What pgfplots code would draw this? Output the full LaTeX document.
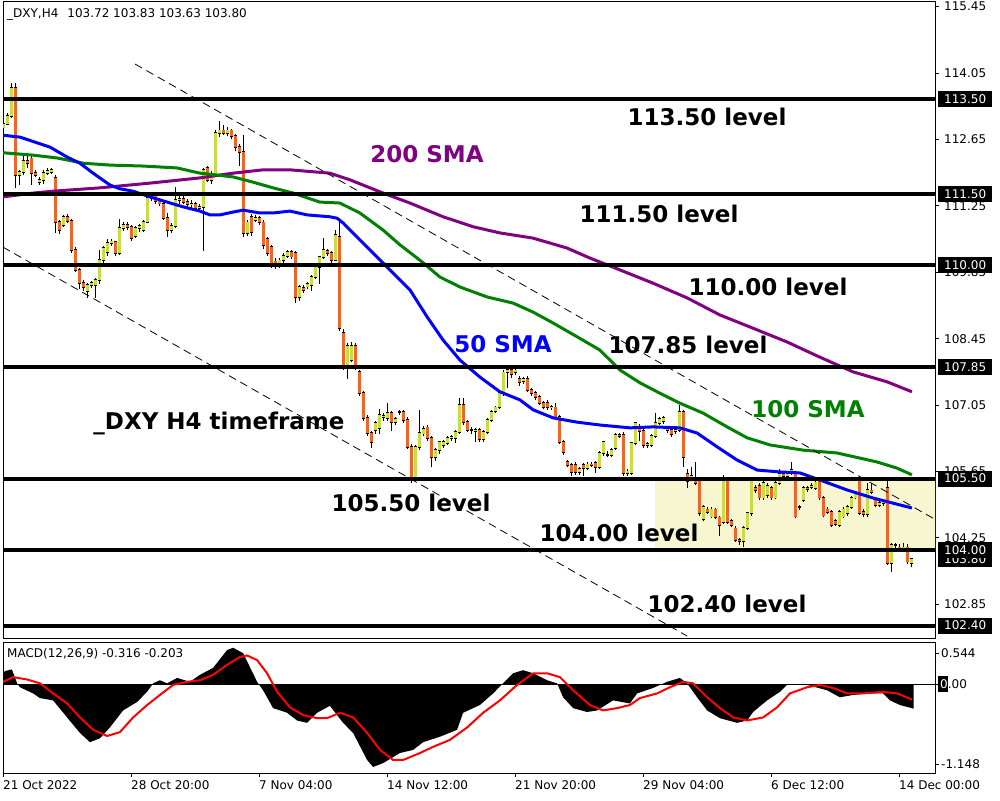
\documentclass[border=0pt]{standalone}
\usepackage{fontspec}
\setmainfont{DejaVu Sans}
\usepackage{pgfplots}
\usepackage{pgfplotstable}
\pgfplotsset{compat=1.18}
\definecolor{upc}{HTML}{C8DC46}
\definecolor{dnc}{HTML}{F06428}
\definecolor{hl}{HTML}{F7F6D0}
\definecolor{smap}{HTML}{800080}
\definecolor{smag}{HTML}{008000}
\definecolor{smab}{HTML}{0000FF}
\newcommand{\tf}{\fontsize{12}{14}\selectfont}
\newcommand{\lv}{\fontsize{23}{27}\selectfont\bfseries}

\pgfplotstableread{
i o h l c
0 112.90 113.05 112.85 112.98
1 112.98 113.20 112.95 113.15
2 113.15 113.85 113.10 113.73
3 113.73 113.85 111.62 111.90
4 111.90 112.00 111.70 111.97
5 111.97 112.30 111.90 112.20
6 112.20 112.35 112.05 112.15
7 112.25 112.30 111.70 111.95
8 111.95 112.00 111.85 111.90
9 111.75 111.85 111.70 111.80
10 111.80 112.00 111.72 111.95
11 111.95 112.05 111.90 111.98
12 111.97 112.05 111.92 112.00
13 111.84 111.90 110.68 110.91
14 110.91 110.95 110.65 110.74
15 110.85 111.05 110.80 111.02
16 111.02 111.08 110.88 110.93
17 110.93 110.98 110.25 110.32
18 110.32 110.38 109.85 109.90
19 109.90 109.95 109.50 109.62
20 109.62 109.68 109.45 109.53
21 109.45 109.62 109.30 109.58
22 109.58 109.66 109.52 109.62
23 109.58 109.72 109.30 109.69
24 109.69 110.32 109.60 110.11
25 110.11 110.40 110.05 110.36
26 110.28 110.55 110.20 110.47
27 110.47 110.55 110.40 110.50
28 110.49 110.52 110.20 110.26
29 110.26 110.97 110.22 110.78
30 110.78 110.90 110.72 110.85
31 110.85 110.92 110.75 110.80
32 110.80 110.85 110.50 110.57
33 110.62 110.82 110.58 110.78
34 110.78 110.86 110.70 110.82
35 110.74 110.95 110.70 110.91
36 110.91 111.50 110.88 111.42
37 111.42 111.52 111.36 111.45
38 111.45 111.50 111.30 111.35
39 111.35 111.42 111.25 111.30
40 111.30 111.34 110.95 110.99
41 110.99 111.10 110.60 110.74
42 110.74 110.88 110.68 110.82
43 110.82 111.65 110.78 111.37
44 111.37 111.48 111.30 111.40
45 111.40 111.45 111.28 111.33
46 111.33 111.40 111.22 111.28
47 111.28 111.37 111.20 111.29
48 111.29 111.33 111.15 111.20
49 111.20 111.30 111.15 111.22
50 111.22 112.05 110.30 112.01
51 112.05 112.10 111.75 111.80
52 111.80 111.98 111.72 111.90
53 111.90 112.85 111.85 112.78
54 112.78 113.05 112.70 112.84
55 112.84 112.95 112.74 112.79
56 112.79 112.92 112.72 112.84
57 112.84 112.88 112.65 112.72
58 112.72 112.76 112.40 112.49
59 112.49 112.55 112.10 112.39
60 112.39 112.74 110.60 110.68
61 110.68 110.95 110.62 110.90
62 111.02 111.08 110.62 110.70
63 110.95 111.05 110.90 111.00
64 111.00 111.04 110.85 110.90
65 110.90 110.95 110.35 110.42
66 110.55 110.60 110.20 110.26
67 110.38 110.42 109.95 110.00
68 110.08 110.15 109.92 109.97
69 110.00 110.15 109.95 110.10
70 110.10 110.25 110.05 110.20
71 110.20 110.32 110.15 110.28
72 110.28 110.33 110.12 110.18
73 110.25 110.30 109.20 109.33
74 109.33 109.58 109.25 109.54
75 109.52 109.58 109.42 109.48
76 109.55 109.65 109.50 109.60
77 109.58 109.80 109.45 109.75
78 109.75 110.00 109.70 109.96
79 109.96 110.20 109.60 110.17
80 110.17 110.57 110.12 110.32
81 110.30 110.35 110.20 110.25
82 110.25 110.30 110.05 110.11
83 110.11 110.75 110.08 110.64
84 110.60 110.90 108.62 108.68
85 108.57 108.65 107.80 107.83
86 107.90 108.35 107.60 108.30
87 108.00 108.38 107.95 108.30
88 108.30 108.36 107.78 107.83
89 107.75 107.80 107.25 107.30
90 107.30 107.35 106.72 106.78
91 106.78 106.84 106.40 106.46
92 106.46 106.50 106.15 106.27
93 106.52 106.72 106.45 106.67
94 106.57 106.96 106.45 106.84
95 106.80 106.88 106.72 106.82
96 106.78 107.10 106.72 106.88
97 106.88 106.92 106.50 106.69
98 106.69 106.80 106.62 106.76
99 106.90 106.95 106.85 106.90
100 106.90 106.95 106.68 106.73
101 106.74 106.80 106.12 106.17
102 106.17 106.22 105.40 105.53
103 105.53 106.20 105.45 106.17
104 106.17 106.94 106.10 106.46
105 106.45 106.60 106.40 106.55
106 106.58 106.64 106.30 106.35
107 106.35 106.40 105.75 105.95
108 105.95 106.15 105.88 106.10
109 106.10 106.30 106.02 106.27
110 106.20 106.32 106.15 106.27
111 106.25 106.40 106.20 106.35
112 106.35 106.42 106.30 106.38
113 106.35 106.52 106.25 106.48
114 106.48 107.20 106.44 107.05
115 107.05 107.20 106.62 106.69
116 106.69 106.74 106.48 106.53
117 106.53 106.58 106.45 106.53
118 106.50 106.57 106.28 106.52
119 106.52 106.56 106.28 106.33
120 106.33 106.52 106.28 106.48
121 106.48 106.78 106.44 106.74
122 106.74 106.95 106.70 106.91
123 106.93 107.04 106.88 107.00
124 107.00 107.34 106.96 107.30
125 107.30 107.78 107.25 107.74
126 107.74 107.85 107.40 107.80
127 107.80 107.88 107.62 107.70
128 107.75 107.82 107.68 107.78
129 107.60 107.66 107.46 107.53
130 107.55 107.64 107.50 107.60
131 107.60 107.66 107.32 107.37
132 107.37 107.42 107.25 107.30
133 107.30 107.35 107.15 107.22
134 107.22 107.26 107.05 107.10
135 107.10 107.14 106.96 107.01
136 107.10 107.16 106.95 107.00
137 107.00 107.06 106.95 107.02
138 107.00 107.10 106.75 106.80
139 106.80 106.85 106.22 106.27
140 106.27 106.32 106.00 106.06
141 105.85 105.90 105.74 105.78
142 105.78 105.82 105.55 105.64
143 105.78 105.84 105.58 105.64
144 105.64 105.74 105.58 105.70
145 105.78 105.83 105.55 105.72
146 105.72 105.84 105.68 105.80
147 105.80 105.86 105.74 105.78
148 105.83 105.88 105.62 105.75
149 105.75 106.08 105.70 106.04
150 106.04 106.30 105.98 106.27
151 106.00 106.08 105.95 106.00
152 106.00 106.15 105.95 106.10
153 106.14 106.46 106.10 106.42
154 106.42 106.46 106.36 106.40
155 106.42 106.48 105.55 105.62
156 105.62 105.70 105.56 105.65
157 105.62 106.28 105.58 106.25
158 106.25 106.70 106.20 106.67
159 106.55 106.65 106.30 106.50
160 106.50 106.55 106.15 106.20
161 106.20 106.28 106.14 106.23
162 106.20 106.44 106.16 106.40
163 106.40 106.88 106.36 106.67
164 106.67 106.80 106.62 106.75
165 106.72 106.82 106.66 106.78
166 106.55 106.60 106.46 106.53
167 106.52 106.56 106.38 106.43
168 106.50 106.56 106.45 106.52
169 106.52 107.05 106.48 106.90
170 106.90 106.94 105.74 105.95
171 105.60 105.70 105.30 105.45
172 105.50 105.75 105.44 105.55
173 105.50 105.85 105.36 105.40
174 105.45 105.50 104.72 104.77
175 104.65 104.94 104.60 104.90
176 104.85 104.90 104.76 104.80
177 104.70 104.90 104.66 104.85
178 104.85 104.88 104.64 104.68
179 104.68 104.72 104.30 104.52
180 104.58 105.57 104.54 105.47
181 105.47 105.52 104.54 104.58
182 104.60 104.64 104.48 104.52
183 104.45 104.50 104.16 104.20
184 104.20 104.24 104.10 104.18
185 104.18 104.50 104.05 104.46
186 104.46 104.80 104.42 104.77
187 104.77 105.50 104.72 105.47
188 105.30 105.36 105.20 105.25
189 105.35 105.40 105.05 105.10
190 105.10 105.44 105.05 105.40
191 105.15 105.40 105.10 105.35
192 105.30 105.34 105.05 105.10
193 105.10 105.45 105.06 105.40
194 105.40 105.70 105.36 105.60
195 105.60 105.66 105.50 105.55
196 105.55 105.64 105.50 105.60
197 105.62 105.85 105.58 105.68
198 105.62 105.66 104.66 104.70
199 104.90 104.95 104.84 104.90
200 105.05 105.34 105.00 105.30
201 105.30 105.35 105.22 105.28
202 105.33 105.40 105.28 105.35
203 105.30 105.46 105.26 105.42
204 105.47 105.52 105.05 105.10
205 105.10 105.14 104.68 104.72
206 104.85 104.90 104.76 104.80
207 104.80 104.84 104.48 104.52
208 104.60 104.64 104.50 104.55
209 104.52 104.84 104.48 104.80
210 104.70 104.90 104.66 104.85
211 104.77 104.94 104.72 104.90
212 104.90 105.14 104.86 105.10
213 105.10 105.24 105.06 105.20
214 105.47 105.52 104.74 104.78
215 104.80 104.85 104.70 104.75
216 104.75 105.40 104.70 105.26
217 105.25 105.40 105.18 105.22
218 105.05 105.10 104.90 104.95
219 104.95 105.02 104.90 104.98
220 104.98 105.06 104.93 105.00
221 105.30 105.47 103.68 103.72
222 103.72 104.14 103.53 104.10
223 104.10 104.15 104.00 104.10
224 104.05 104.12 103.96 104.00
225 104.02 104.15 103.98 104.05
226 104.05 104.12 103.70 103.75
227 103.72 103.83 103.63 103.80
}\candles

\tikzset{lvbox/.style={fill=black, text=white, font=\tf, inner sep=0pt, minimum width=54pt, minimum height=16pt, anchor=west}}

\begin{document}
\begin{tikzpicture}
\useasboundingbox (0pt,0pt) rectangle (1000pt,800pt);
\begin{axis}[name=main, at={(3pt,161pt)}, anchor=south west, scale only axis, width=932pt, height=637pt,
  xmin=-0.125, xmax=232.875, ymin=102.118, ymax=115.549,
  xtick=\empty,
  ytick={102.85,104.25,105.65,107.05,108.45,109.85,111.25,112.65,114.05,115.45},
  yticklabels={102.85,104.25,105.65,107.05,108.45,109.85,111.25,112.65,114.05,115.45},
  ytick pos=right, yticklabel pos=right, tick align=outside, major tick length=4pt,
  tick style={black, line width=0.8pt},
  yticklabel style={font=\tf, anchor=west, inner sep=0pt, xshift=5pt},
  axis line style={black, line width=1pt}]
\addplot[fill=hl, draw=none] coordinates {(162.9,104.0) (232.875,104.0) (232.875,105.5) (162.9,105.5) (162.9,104.0)};
% wicks
\addplot[black, line width=1pt, mark=none, quiver={u=0, v=\thisrow{h}-\thisrow{l}}]
  table[x=i, y=l] {\candles};
% body outlines
\addplot[black, line width=3.6pt, mark=none, quiver={u=0, v={abs(\thisrow{c}-\thisrow{o})+0.036}}]
  table[x=i, y expr={min(\thisrow{o},\thisrow{c})-0.018}] {\candles};
% up bodies
\addplot[draw=upc, color=upc, line width=2.1pt, mark=none, quiver={u=0, v={max(\thisrow{c}-\thisrow{o},0)}}]
  table[x=i, y=o] {\candles};
% down bodies
\addplot[draw=dnc, color=dnc, line width=2.1pt, mark=none, quiver={u=0, v={max(\thisrow{o}-\thisrow{c},0)}}]
  table[x=i, y=c] {\candles};
% 200 SMA
\addplot[smap, line width=3pt] coordinates {(-0.1,111.44) (7.4,111.52) (12.4,111.56) (24.1,111.63) (36.6,111.73) (49.1,111.84) (57.4,111.94) (64.9,112.01) (71.6,112.01) (81.6,111.94) (86.6,111.80) (94.9,111.52) (101.6,111.31) (109.9,111.02) (117.4,110.81) (124.1,110.68) (132.4,110.57) (140.9,110.36) (146.6,110.15) (154.1,109.90) (162.4,109.62) (170.9,109.31) (179.1,108.95) (187.4,108.67) (195.9,108.38) (204.1,108.06) (212.4,107.75) (220.9,107.54) (227.1,107.33)};
% 100 SMA
\addplot[smag, line width=3pt] coordinates {(-0.1,112.37) (7.4,112.32) (13.4,112.26) (19.9,112.15) (26.6,112.11) (34.9,112.09) (43.4,112.05) (49.1,111.94) (53.4,111.90) (57.4,111.86) (62.4,111.75) (67.4,111.63) (72.4,111.52) (75.9,111.42) (79.1,111.33) (84.1,111.31) (89.1,111.10) (94.9,110.74) (99.1,110.43) (103.4,110.15) (104.9,110.05) (109.1,109.75) (114.1,109.54) (120.9,109.33) (127.4,109.20) (132.4,109.01) (137.4,108.78) (143.4,108.49) (149.1,108.21) (154.1,107.79) (159.1,107.52) (164.1,107.30) (169.1,107.09) (174.9,106.88) (180.9,106.59) (185.9,106.36) (191.6,106.21) (199.9,106.10) (208.4,106.04) (218.4,105.85) (223.4,105.72) (227.1,105.58)};
% 50 SMA
\addplot[smab, line width=3pt] coordinates {(-0.1,112.74) (4.1,112.70) (11.6,112.49) (15.9,112.28) (19.1,112.15) (22.4,111.94) (26.6,111.69) (29.1,111.61) (32.4,111.56) (36.6,111.44) (40.9,111.33) (44.9,111.23) (49.1,111.14) (51.6,111.06) (54.1,111.06) (57.4,111.12) (59.9,111.16) (64.1,111.10) (67.4,111.10) (71.6,111.14) (75.9,111.06) (81.6,111.02) (83.4,110.99) (84.9,110.89) (89.1,110.53) (93.4,110.17) (96.6,109.90) (101.6,109.48) (105.9,108.91) (109.9,108.42) (114.1,108.00) (119.1,107.64) (124.1,107.33) (129.1,107.16) (132.4,106.95) (137.4,106.78) (143.4,106.69) (149.1,106.63) (156.6,106.57) (162.4,106.59) (169.1,106.57) (173.4,106.46) (178.4,106.17) (183.4,105.89) (188.4,105.68) (194.1,105.64) (199.1,105.62) (204.1,105.47) (210.9,105.26) (217.4,105.09) (227.1,104.88)};
% levels
\addplot[black, line width=4pt] coordinates {(-0.125,113.50) (232.875,113.50)};
\addplot[black, line width=4pt] coordinates {(-0.125,111.50) (232.875,111.50)};
\addplot[black, line width=4pt] coordinates {(-0.125,110.00) (232.875,110.00)};
\addplot[black, line width=4pt] coordinates {(-0.125,107.85) (232.875,107.85)};
\addplot[black, line width=4pt] coordinates {(-0.125,105.50) (232.875,105.50)};
\addplot[black, line width=4pt] coordinates {(-0.125,104.00) (232.875,104.00)};
\addplot[black, line width=4pt] coordinates {(-0.125,102.40) (232.875,102.40)};
% channel
\addplot[black, line width=0.8pt, dash pattern=on 8pt off 5pt] coordinates {(32.9,114.24) (233.1,104.63)};
\addplot[black, line width=0.8pt, dash pattern=on 8pt off 5pt] coordinates {(-0.125,110.38) (170.9,102.18)};
\end{axis}

\begin{axis}[name=macd, at={(3pt,27pt)}, anchor=south west, scale only axis, width=932pt, height=131pt,
  xmin=-0.125, xmax=232.875, ymin=-1.148, ymax=0.544,
  xtick={-0.125,31.875,63.875,95.875,127.875,159.875,191.875,223.875},
  xticklabels={21 Oct 2022,28 Oct 20:00,7 Nov 04:00,14 Nov 12:00,21 Nov 20:00,29 Nov 04:00,6 Dec 12:00,14 Dec 00:00},
  xtick pos=left, ytick={-1.032,0.402}, yticklabels={-1.148,0.544},
  ytick pos=right, yticklabel pos=right, tick align=outside, major tick length=4pt,
  tick style={black, line width=0.8pt},
  xticklabel style={font=\tf, anchor=north west, inner sep=0pt, yshift=-3pt},
  yticklabel style={font=\tf, anchor=west, inner sep=0pt, xshift=2pt},
  axis line style={black, line width=1pt}]
\addplot[fill=black, draw=none] coordinates {(-0.125,0) (-0.125,0.15) (0.5,0.17) (2.1,0.19) (3.4,0.01) (4.1,-0.04) (7.4,-0.12) (9.1,-0.18) (12.4,-0.21) (15.9,-0.43) (19.1,-0.63) (21.6,-0.75) (24.1,-0.70) (26.6,-0.56) (29.9,-0.34) (33.4,-0.23) (35.9,-0.10) (37.4,0.01) (39.1,0.05) (40.9,0.01) (43.4,0.08) (46.6,0.03) (49.1,0.12) (52.4,0.21) (55.9,0.44) (57.4,0.47) (59.9,0.40) (61.6,0.22) (63.4,0.03) (64.9,-0.08) (67.4,-0.31) (70.9,-0.37) (73.4,-0.47) (75.9,-0.50) (78.4,-0.37) (81.6,-0.28) (84.9,-0.50) (87.4,-0.63) (90.9,-0.98) (92.4,-1.07) (94.9,-1.02) (99.1,-0.89) (102.4,-0.85) (104.9,-0.75) (109.1,-0.68) (113.4,-0.59) (114.9,-0.37) (119.1,-0.27) (122.4,-0.12) (124.9,0.01) (127.4,0.14) (129.9,0.18) (132.4,0.14) (135.9,0.05) (138.4,0.01) (139.9,-0.17) (142.4,-0.31) (145.9,-0.36) (148.4,-0.34) (152.4,-0.21) (156.6,-0.25) (158.4,-0.12) (162.4,-0.05) (165.9,0.03) (169.1,0.08) (170.9,0.01) (173.4,-0.17) (175.9,-0.34) (179.1,-0.44) (183.4,-0.50) (185.9,-0.47) (187.4,-0.36) (190.9,-0.21) (194.1,-0.10) (195.9,-0.01) (200.9,-0.01) (205.9,-0.08) (209.1,-0.17) (212.4,-0.14) (216.6,-0.12) (219.9,-0.12) (221.6,-0.21) (224.1,-0.27) (227.5,-0.316) (227.5,0)} \closedcycle;
\addplot[black, line width=1pt] coordinates {(-0.125,0) (232.875,0)};
\addplot[red, line width=2pt] coordinates {(-0.125,0.03) (2.4,0.09) (5.9,0.06) (9.1,0.01) (12.4,-0.12) (15.9,-0.25) (19.1,-0.43) (22.4,-0.59) (25.9,-0.67) (29.1,-0.62) (32.4,-0.43) (35.9,-0.27) (39.1,-0.14) (42.4,-0.01) (45.9,0.03) (49.1,0.05) (52.4,0.12) (55.9,0.25) (59.1,0.35) (60.9,0.37) (63.4,0.31) (65.9,0.14) (68.4,-0.10) (71.6,-0.30) (74.9,-0.40) (78.4,-0.44) (80.9,-0.44) (84.1,-0.37) (87.4,-0.43) (90.9,-0.63) (94.1,-0.85) (97.4,-0.98) (99.9,-0.98) (104.1,-0.89) (107.4,-0.81) (111.6,-0.72) (115.9,-0.56) (119.9,-0.37) (124.1,-0.21) (128.4,-0.01) (132.4,0.14) (135.9,0.14) (139.1,0.09) (142.4,-0.08) (146.6,-0.27) (149.9,-0.34) (153.4,-0.31) (156.6,-0.27) (159.1,-0.18) (163.4,-0.12) (166.6,-0.04) (169.9,0.03) (172.4,0.01) (175.9,-0.17) (179.1,-0.31) (182.4,-0.43) (185.9,-0.47) (189.9,-0.43) (193.4,-0.30) (196.6,-0.12) (200.9,-0.04) (204.1,-0.01) (207.4,-0.05) (210.9,-0.12) (214.9,-0.12) (219.9,-0.10) (223.4,-0.12) (227.1,-0.20)};
\end{axis}

% header texts
\node[anchor=west, inner sep=0pt, font=\tf] at (7pt,786pt) {\_DXY,H4\hspace{9pt}103.72 103.83 103.63 103.80};
\node[anchor=west, inner sep=0pt, font=\tf] at (7pt,146pt) {MACD(12,26,9) -0.316 -0.203};
% annotations
\node[font=\lv] at (707pt,683pt) {113.50 level};
\node[font=\lv, text=smap] at (427pt,646pt) {200 SMA};
\node[font=\lv] at (659pt,586pt) {111.50 level};
\node[font=\lv] at (768pt,513.5pt) {110.00 level};
\node[font=\lv] at (688pt,455pt) {107.85 level};
\node[font=\lv, text=smab] at (503pt,456pt) {50 SMA};
\node[font=\lv] at (219pt,377pt) {\_DXY H4 timeframe};
\node[font=\lv, text=smag] at (808pt,391pt) {100 SMA};
\node[font=\lv] at (411pt,297pt) {105.50 level};
\node[font=\lv] at (619pt,267pt) {104.00 level};
\node[font=\lv] at (727pt,196pt) {102.40 level};
% level price boxes
\node[lvbox] at (938pt,240.8pt) {103.80};
\node[lvbox] at (938pt,700.8pt) {113.50};
\node[lvbox] at (938pt,606.0pt) {111.50};
\node[lvbox] at (938pt,534.8pt) {110.00};
\node[lvbox] at (938pt,432.8pt) {107.85};
\node[lvbox] at (938pt,321.4pt) {105.50};
\node[lvbox] at (938pt,250.2pt) {104.00};
\node[lvbox] at (938pt,174.4pt) {102.40};
% MACD zero label
\draw[black, line width=0.8pt] (935pt,116pt) -- (939pt,116pt);
\fill[black] (938pt,108pt) rectangle (948pt,124pt);
\node[anchor=west, inner sep=0pt, font=\tf] at (940pt,116pt) {0.00};
\begin{scope}
\clip (938pt,108pt) rectangle (948pt,124pt);
\node[anchor=west, inner sep=0pt, font=\tf, text=white] at (940pt,116pt) {0.00};
\end{scope}
\end{tikzpicture}
\end{document}
